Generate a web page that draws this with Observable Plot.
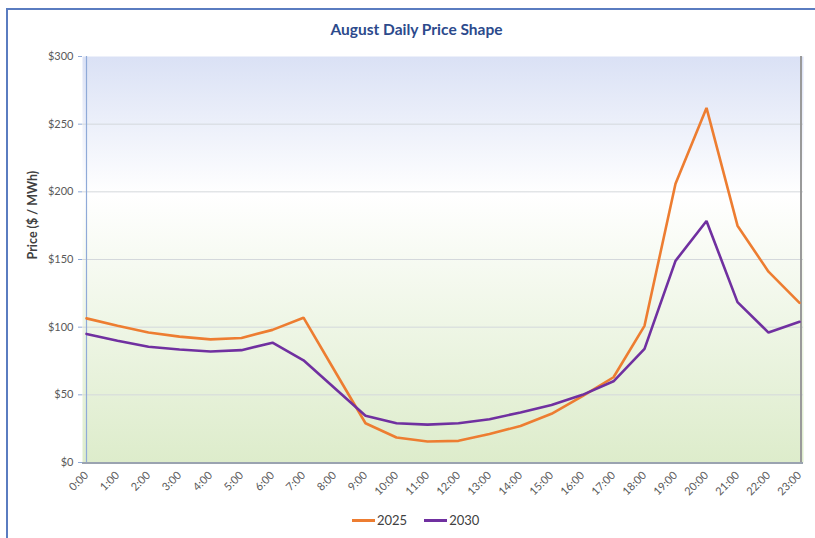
<!DOCTYPE html>
<html>
<head>
<meta charset="utf-8">
<script src="https://cdn.jsdelivr.net/npm/d3@7"></script>
<script src="https://cdn.jsdelivr.net/npm/@observablehq/plot@0.6"></script>
<style>
  html, body { margin: 0; padding: 0; background: #fff; }
  #wrap { position: relative; width: 815px; height: 538px; overflow: hidden; font-family: Lato, "Open Sans", sans-serif; }
  #frame { position: absolute; left: 6px; top: 8px; width: 830px; height: 560px; border-top: 2px solid #5a7cc0; border-left: 2px solid #5a7cc0; box-sizing: border-box; }
  #title { position: absolute; left: 0; width: 833px; top: 20px; text-align: center; font-weight: bold; font-size: 15.5px; color: #2c4a8c; }
  #legend { position: absolute; top: 512px; left: 352px; display: flex; align-items: center; font-size: 13px; color: #404040; }
  .sw { display: inline-block; width: 23px; height: 3px; margin-right: 2px; }
  #chart { position: absolute; left: 0; top: 0; }
</style>
</head>
<body>
<div id="wrap">
  <div id="frame"></div>
  <div id="chart"></div>
  <div id="title">August Daily Price Shape</div>
  <div id="legend">
    <span class="sw" style="background:#ed7d31"></span><span style="margin-right:17px">2025</span>
    <span class="sw" style="background:#7030a0"></span><span>2030</span>
  </div>
</div>
<script>
const hours = ["0:00","1:00","2:00","3:00","4:00","5:00","6:00","7:00","8:00","9:00","10:00","11:00","12:00","13:00","14:00","15:00","16:00","17:00","18:00","19:00","20:00","21:00","22:00","23:00"];
const price2025 = [106.5, 101, 96, 93, 91, 92, 98, 107, 68, 29, 18.5, 15.5, 16, 21, 27, 36, 49, 63, 101, 206, 262, 175, 141, 118];
const price2030 = [95, 90, 85.5, 83.5, 82, 83, 88.5, 75.5, 55, 34.5, 29, 28, 29, 32, 37, 42.5, 50, 60, 84, 149, 178.5, 118.5, 96, 104];
const yTicks = [0, 50, 100, 150, 200, 250, 300];
const series = [
  {name: "2025", values: price2025, color: "#ed7d31"},
  {name: "2030", values: price2030, color: "#7030a0"}
];
const rows = series.flatMap(s => s.values.map((v, i) => ({hour: hours[i], price: v, series: s.name})));

const plot = Plot.plot({
  width: 815,
  height: 538,
  marginLeft: 82,
  marginRight: 12,
  marginTop: 56,
  marginBottom: 76,
  style: {fontFamily: "Lato, 'Open Sans', sans-serif", background: "transparent", overflow: "visible"},
  x: {type: "point", domain: hours, padding: 0},
  y: {domain: [0, 300]},
  color: {domain: series.map(s => s.name), range: series.map(s => s.color)},
  marks: [
    Plot.frame({fill: "url(#bggrad)", stroke: null}),
    Plot.ruleY(yTicks.slice(1, -1), {stroke: "#d4d8dc", strokeWidth: 1}),
    Plot.ruleX([hours[hours.length - 1]], {stroke: "#9a9a9a", strokeWidth: 2, dx: 1.5}),
    Plot.ruleY([0], {stroke: "#9aa3b0", strokeWidth: 2, dy: 0.5}),
    Plot.ruleX([hours[0]], {stroke: "#8faad8", strokeWidth: 1.2}),
    Plot.axisY({ticks: yTicks, tickFormat: d => "$" + d, tickSize: 4, tickPadding: 5, fontSize: 11, fill: "#595959", stroke: "#8faad8", label: null}),
    Plot.axisX({tickRotate: -45, tickSize: 0, tickPadding: 11, fontSize: 11, fill: "#595959", label: null}),
    Plot.text(["Price ($ / MWh)"], {frameAnchor: "left", dx: -50, rotate: -90, fontWeight: "bold", fontSize: 12.5, fill: "#404040"}),
    Plot.line(rows, {x: "hour", y: "price", z: "series", stroke: "series", strokeWidth: 2.6, strokeLinejoin: "miter", curve: "linear"})
  ]
});

const defs = d3.select(plot).insert("defs", ":first-child");
const g = defs.append("linearGradient").attr("id", "bggrad").attr("x1", 0).attr("y1", 0).attr("x2", 0).attr("y2", 1);
g.append("stop").attr("offset", "0%").attr("stop-color", "#dae1f5");
g.append("stop").attr("offset", "34%").attr("stop-color", "#ffffff");
g.append("stop").attr("offset", "100%").attr("stop-color", "#ddeccb");

document.getElementById("chart").appendChild(plot);
</script>
</body>
</html>
